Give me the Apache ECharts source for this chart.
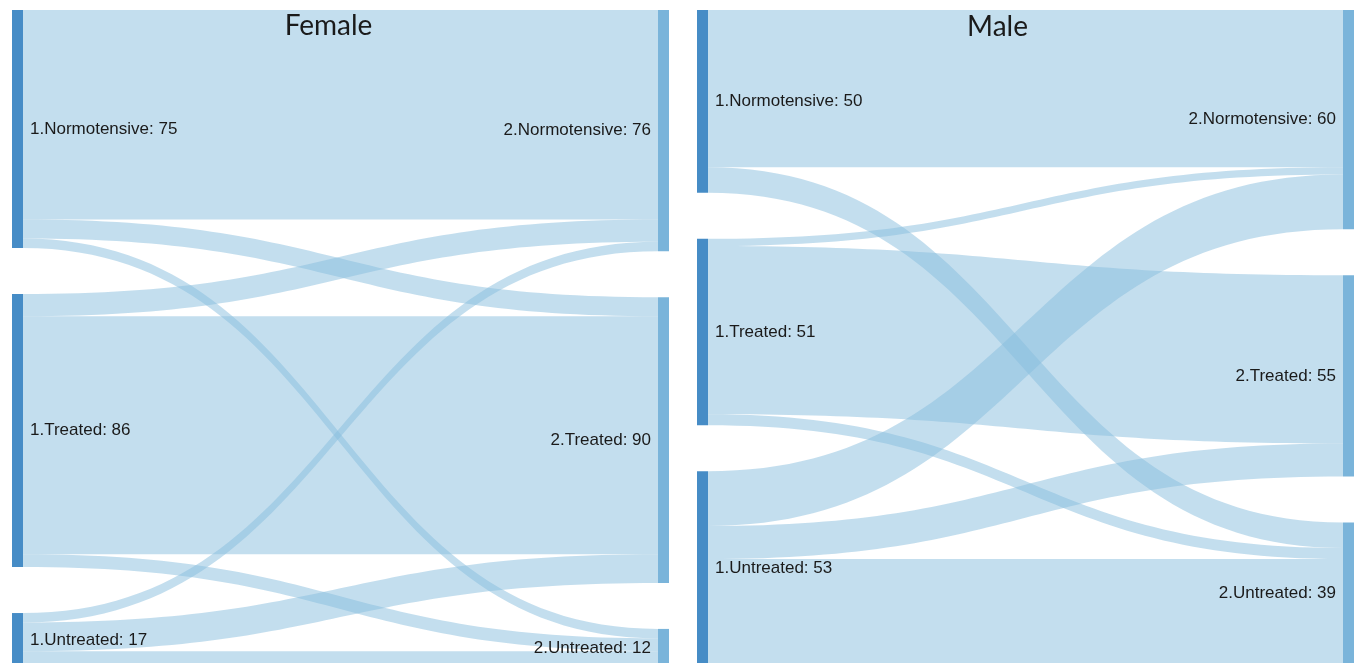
<!DOCTYPE html>
<html>
<head>
<meta charset="utf-8">
<script src="https://cdn.jsdelivr.net/npm/echarts@6/dist/echarts.min.js"></script>
<style>
html,body{margin:0;padding:0;background:#fff;}
#chart{width:1356px;height:663px;}
</style>
</head>
<body>
<div id="chart"></div>
<script>
const fromStates = ['1.Normotensive', '1.Treated', '1.Untreated'];
const toStates = ['2.Normotensive', '2.Treated', '2.Untreated'];
// rows: from state, columns: to state
const femaleFlows = [
  [66, 6, 3],
  [7, 75, 4],
  [3, 9, 5]
];
const maleFlows = [
  [43, 0, 7],
  [2, 46, 3],
  [15, 9, 29]
];
const panelTitles = ['Female', 'Male'];

const leftNodeColor = '#468cc6';
const rightNodeColor = '#7ab4da';
const linkColor = 'rgb(135,189,221)';
const labelFont = { fontFamily: 'Liberation Sans, Arial, sans-serif', fontSize: 17, color: '#1a1a1a' };

function buildSeries(flows, layout) {
  const nodes = [];
  fromStates.forEach((name, i) => {
    const total = flows[i].reduce((a, b) => a + b, 0);
    nodes.push({
      name: name, value: total, depth: 0,
      itemStyle: { color: leftNodeColor, borderWidth: 0 },
      label: Object.assign({ position: 'right', distance: 7 }, labelFont)
    });
  });
  toStates.forEach((name, j) => {
    const total = flows.reduce((a, row) => a + row[j], 0);
    nodes.push({
      name: name, value: total, depth: 1,
      itemStyle: { color: rightNodeColor, borderWidth: 0 },
      label: Object.assign({ position: 'left', distance: 7 }, labelFont)
    });
  });
  const links = [];
  flows.forEach((row, i) => {
    row.forEach((v, j) => {
      if (v > 0) links.push({ source: fromStates[i], target: toStates[j], value: v });
    });
  });
  return Object.assign({
    type: 'sankey',
    nodeWidth: 11,
    nodeGap: 46,
    layoutIterations: 0,
    draggable: false,
    emphasis: { disabled: true },
    data: nodes,
    links: links,
    label: {
      show: true,
      formatter: p => p.name + ': ' + p.value
    },
    lineStyle: { color: linkColor, opacity: 0.5, curveness: 0.5 }
  }, layout);
}

const chart = echarts.init(document.getElementById('chart'));
chart.setOption({
  backgroundColor: '#ffffff',
  animation: false,
  series: [
    buildSeries(femaleFlows, { left: 12, right: 687, top: 10, bottom: -4 }),
    buildSeries(maleFlows, { left: 697, right: 2, top: 10, bottom: -2 })
  ],
  graphic: [
    {
      type: 'text', z: 100, x: 328.5, y: 26,
      style: { text: panelTitles[0], font: '28px Lato, "Open Sans", sans-serif', fill: '#1a1a1a', align: 'center', verticalAlign: 'middle' }
    },
    {
      type: 'text', z: 100, x: 997.5, y: 27,
      style: { text: panelTitles[1], font: '28px Lato, "Open Sans", sans-serif', fill: '#1a1a1a', align: 'center', verticalAlign: 'middle' }
    }
  ]
});
</script>
</body>
</html>
